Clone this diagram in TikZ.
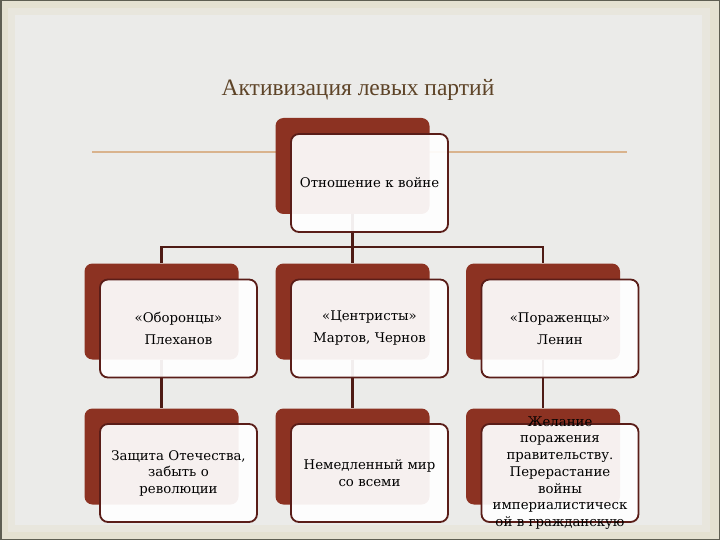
\documentclass[tikz,border=0pt]{standalone}
\usepackage{fontspec}
\setmainfont{Liberation Serif}
\newfontfamily\cellfont{DejaVu Serif}
\usepackage{tikz}
\usetikzlibrary{positioning}
\definecolor{frame} {HTML}{E4E1D1}
\definecolor{paper} {HTML}{EBEBE9}
\definecolor{edge}  {HTML}{5E5E52}
\definecolor{rust}  {HTML}{8C3222}
\definecolor{rim}   {HTML}{5A1D18}
\definecolor{wire}  {HTML}{4E1B15}
\definecolor{title} {HTML}{5E4428}
\definecolor{rule}  {HTML}{D9B38D}

\begin{document}
\begin{tikzpicture}[x=1pt, y=-1pt,
    back/.style={fill=rust, rounded corners=8pt, minimum width=154pt,
      minimum height=96pt, inner sep=0pt},
    card/.style={draw=rim, line width=1.8pt, fill=white, fill opacity=0.93,
      text opacity=1, rounded corners=8pt, minimum width=157pt,
      minimum height=98pt, inner sep=2pt, align=center, text width=152pt,
      font=\cellfont\fontsize{13.3}{16.5}\selectfont},
    celltext/.style={align=center, text width=152pt,
      font=\cellfont\fontsize{13.3}{16.7}\selectfont},
    link/.style={draw=wire, line width=2.3pt}]

    % --- slide background ----------------------------------------------------
    \fill[edge]  (0, 0) rectangle (720, 540);
    \fill[frame] (1.5, 1.5) rectangle (718.5, 538.5);
    \fill[paper!50!frame] (8, 8) rectangle (710, 532);
    \fill[paper] (15, 15) rectangle (702, 525);

    \node[font=\fontsize{23.5}{28}\selectfont, text=title] (head) at (358, 90)
      {Активизация левых партий};
    \draw[rule, line width=1.2pt] (92, 152) -- (627, 152);

    % --- red backing plates ---------------------------------------------------
    \node[back] (relb) at (352.5, 166) {};
    \node[back] (defb) at (161.5, 311.5) {};
    \node[back] (cenb) at (352.5, 311.5) {};
    \node[back] (defeatb) at (543, 311.5) {};
    \node[back] (homeb) at (161.5, 456.5) {};
    \node[back] (peaceb) at (352.5, 456.5) {};
    \node[back] (turnb) at (543, 456.5) {};

    % --- connectors, under the cards -------------------------------------------
    \draw[link] (relb.south) -- ++(0, 33) -| (defb.north);
    \draw[link] (relb.south) -- ++(0, 33) -| (cenb.north);
    \draw[link] (relb.south) -- ++(0, 33) -| (defeatb.north);
    \draw[link] (defb.south) -- (homeb.north);
    \draw[link] (cenb.south) -- (peaceb.north);
    \draw[link] (defeatb.south) -- (turnb.north);

    % --- white cards ----------------------------------------------------------
    \node[card] (rel) at (369.5, 183) {Отношение к войне};
    \node[card] (def) at (178.5, 328.5) {«Оборонцы»\\[5.5pt]Плеханов};
    \node[card] (cen) at (369.5, 328.5) {«Центристы»\\[5.5pt]Мартов, Чернов};
    \node[card] (defeat) at (560, 328.5) {«Пораженцы»\\[5.5pt]Ленин};
    \node[card] (home) at (178.5, 473)
      {Защита Отечества,\\забыть о\\революции};
    \node[card] (peace) at (369.5, 473) {Немедленный мир\\со всеми};
    % the text of this card runs over its edge, as on the slide
    \node[card] (turn) at (560, 473) {};
    \node[celltext] (turntext) at (turn.center)
      {Желание\\поражения\\правительству.\\Перерастание\\войны\\империалистическ\\ой в гражданскую};

    \useasboundingbox (0, 0) rectangle (720, 540);
  \end{tikzpicture}
\end{document}
